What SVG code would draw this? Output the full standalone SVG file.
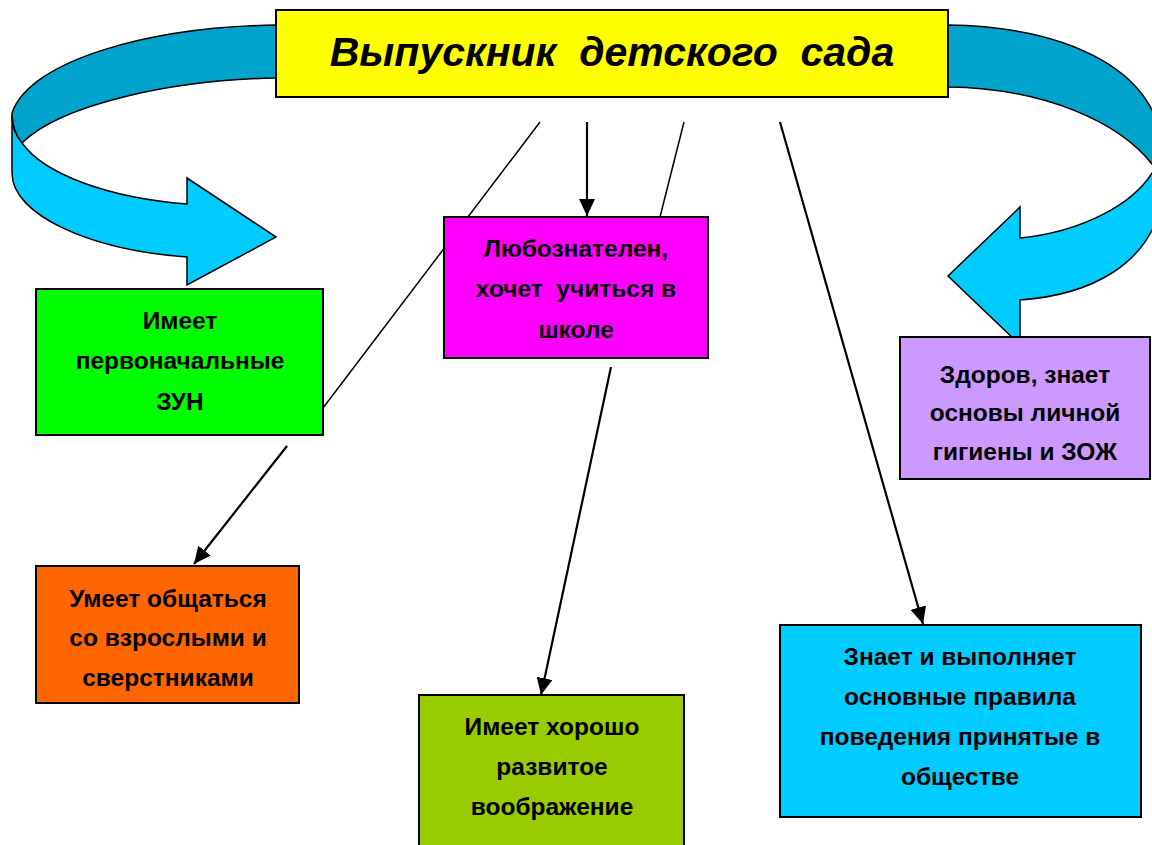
<svg xmlns="http://www.w3.org/2000/svg" width="1152" height="845" viewBox="0 0 1152 845">
<defs>
<style>
.box{stroke:#000;stroke-width:2}
.t{font-family:"Liberation Sans",Arial,sans-serif;font-weight:bold;font-size:24.5px;fill:#000;text-anchor:middle;white-space:pre}
.title{font-family:"Liberation Sans",Arial,sans-serif;font-weight:bold;font-style:italic;font-size:41px;fill:#000;text-anchor:middle;white-space:pre}
.ln{stroke:#000;stroke-width:1.5;fill:none}
.ar{stroke:#000;stroke-width:2.2;fill:none;marker-end:url(#ah)}
.dark{fill:#00a3cc;stroke:#000;stroke-width:1.5}
.light{fill:#00ccff;stroke:#000;stroke-width:1.5}
</style>
<marker id="ah" markerUnits="userSpaceOnUse" markerWidth="18" markerHeight="16" refX="17" refY="8" orient="auto">
<path d="M0,0 L17,8 L0,16 Z" fill="#000"/>
</marker>
</defs>
<rect width="1152" height="845" fill="#fff"/>
<g id="curved-arrows">
<path class="dark" d="M276,25 C150,27 30,60 12,113 C12,125 16,136 22,143 C60,105 170,80 276,78 Z"/>
<path class="light" d="M12,115 L12,173 C12,215 90,250 187,257 L187,285 L276,237 L187,178 L187,204 C110,198 45,175 22,143 C15,135 12,125 12,115 Z"/>
<path class="dark" d="M948,25 C1075,27 1160,75 1162,150 L1155,168 C1120,120 1040,88 948,87 Z"/>
<path class="light" d="M1162,150 L1162,200 C1150,265 1090,295 1020,300 L1020,345 L948,276 L1020,207 L1020,238 C1080,232 1135,205 1155,168 Z"/>
</g>
<g id="connectors">
<line class="ln" x1="540" y1="122" x2="323" y2="408"/>
<line class="ln" x1="684" y1="122" x2="660" y2="217"/>
<line class="ar" x1="587" y1="122" x2="587" y2="216"/>
<line class="ar" x1="287" y1="446" x2="194" y2="564"/>
<line class="ar" x1="611" y1="367" x2="541" y2="695"/>
<line class="ar" x1="780" y1="122" x2="923" y2="624"/>
</g>
<g id="title">
<rect class="box" x="276" y="10" width="672" height="87" fill="#ffff00"/>
<text class="title" x="612" y="66">Выпускник  детского  сада</text>
</g>
<g id="node-zun">
<rect class="box" x="36" y="289" width="287" height="146" fill="#00ff00"/>
<text class="t" x="180" y="329">Имеет</text>
<text class="t" x="180" y="369">первоначальные</text>
<text class="t" x="180" y="410">ЗУН</text>
</g>
<g id="node-curious">
<rect class="box" x="444" y="217" width="264" height="141" fill="#ff00ff"/>
<text class="t" x="576" y="257">Любознателен,</text>
<text class="t" x="576" y="297">хочет  учиться в</text>
<text class="t" x="576" y="338">школе</text>
</g>
<g id="node-health">
<rect class="box" x="900" y="337" width="250" height="142" fill="#cc99ff"/>
<text class="t" x="1025" y="383">Здоров, знает</text>
<text class="t" x="1025" y="421">основы личной</text>
<text class="t" x="1025" y="460">гигиены и ЗОЖ</text>
</g>
<g id="node-communicate">
<rect class="box" x="36" y="566" width="263" height="137" fill="#ff6600"/>
<text class="t" x="168" y="607">Умеет общаться</text>
<text class="t" x="168" y="646">со взрослыми и</text>
<text class="t" x="168" y="686">сверстниками</text>
</g>
<g id="node-imagination">
<rect class="box" x="419" y="695" width="265" height="160" fill="#99cc00"/>
<text class="t" x="552" y="735">Имеет хорошо</text>
<text class="t" x="552" y="775">развитое</text>
<text class="t" x="552" y="815">воображение</text>
</g>
<g id="node-rules">
<rect class="box" x="780" y="625" width="361" height="192" fill="#00ccff"/>
<text class="t" x="960" y="665">Знает и выполняет</text>
<text class="t" x="960" y="705">основные правила</text>
<text class="t" x="960" y="745">поведения принятые в</text>
<text class="t" x="960" y="785">обществе</text>
</g>
</svg>
